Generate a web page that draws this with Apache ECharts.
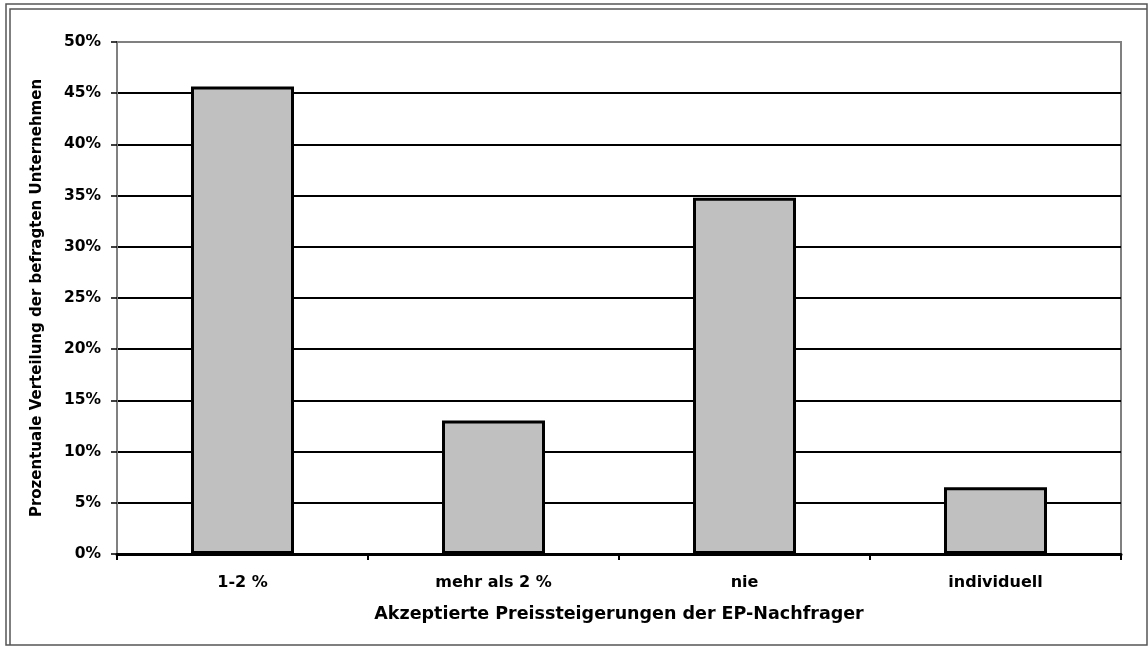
<!DOCTYPE html>
<html>
<head>
<meta charset="utf-8">
<title>Akzeptierte Preissteigerungen</title>
<script src="https://cdn.jsdelivr.net/npm/echarts@6/dist/echarts.min.js"></script>
<style>
  html, body { margin: 0; padding: 0; background: #ffffff; }
  #chart { width: 1148px; height: 646px; }
</style>
</head>
<body>
<div id="chart"></div>
<script>
// Answer categories and share of surveyed companies (percent)
const categories = ['1-2 %', 'mehr als 2 %', 'nie', 'individuell'];
const shares = [45.65, 13.04, 34.78, 6.52];
const yTicks = [0, 5, 10, 15, 20, 25, 30, 35, 40, 45, 50];

const FONT = '"DejaVu Sans", "Liberation Sans", Arial, sans-serif';

// grid lines: black, the top (50%) one grey like the plot frame
const gridColors = yTicks.map((v, i) => (i === yTicks.length - 1 ? '#808080' : '#000000'));

const chart = echarts.init(document.getElementById('chart'), null, { renderer: 'canvas' });

chart.setOption({
  animation: false,
  backgroundColor: '#ffffff',
  graphic: [
    // double frame around the chart
    {
      type: 'rect',
      shape: { x: 6, y: 4, width: 1141, height: 641 },
      style: { fill: null, stroke: '#555555', lineWidth: 1.5 },
      silent: true
    },
    {
      type: 'polyline',
      shape: { points: [[10, 645], [10, 9], [1147, 9]] },
      style: { fill: null, stroke: '#555555', lineWidth: 1.5 },
      silent: true
    }
  ],
  grid: {
    left: 117,
    right: 27,
    top: 42,
    bottom: 92,
    show: true,
    borderColor: '#808080',
    borderWidth: 2,
    backgroundColor: 'transparent'
  },
  xAxis: {
    type: 'category',
    data: categories,
    boundaryGap: true,
    name: 'Akzeptierte Preissteigerungen der EP-Nachfrager',
    nameLocation: 'middle',
    nameGap: 51,
    nameTextStyle: { fontFamily: FONT, fontWeight: 'bold', fontSize: 17.5, color: '#000000' },
    axisLine: { show: true, lineStyle: { color: '#000000', width: 3 } },
    axisTick: { show: true, alignWithLabel: false, length: 6, lineStyle: { color: '#000000', width: 2 } },
    axisLabel: { margin: 21, fontFamily: FONT, fontWeight: 'bold', fontSize: 16, color: '#000000' },
    splitLine: { show: false }
  },
  yAxis: {
    type: 'value',
    min: 0,
    max: 50,
    interval: 5,
    name: 'Prozentuale Verteilung der befragten Unternehmen',
    nameLocation: 'middle',
    nameGap: 72,
    nameTextStyle: { fontFamily: FONT, fontWeight: 'bold', fontSize: 15, color: '#000000' },
    axisLine: { show: true, lineStyle: { color: '#808080', width: 2 } },
    axisTick: { show: true, length: 6, lineStyle: { color: '#000000', width: 1.5 } },
    axisLabel: {
      margin: 16,
      fontFamily: FONT,
      fontWeight: 'bold',
      fontSize: 15.5,
      color: '#000000',
      formatter: v => v + '%'
    },
    splitLine: { show: true, lineStyle: { color: gridColors, width: 2 } }
  },
  series: [
    {
      type: 'bar',
      data: shares,
      barWidth: 103,
      itemStyle: { color: '#c0c0c0', borderColor: '#000000', borderWidth: 3 },
      z: 3
    }
  ]
});
</script>
</body>
</html>
